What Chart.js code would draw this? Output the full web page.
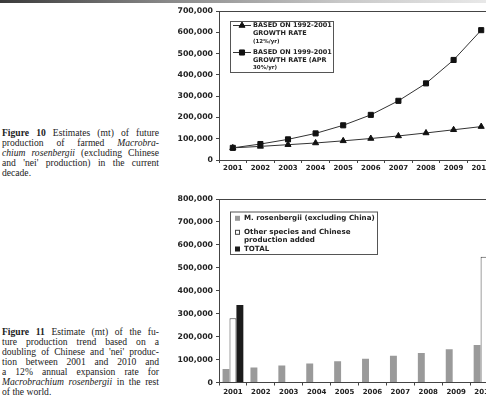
<!DOCTYPE html>
<html>
<head>
<meta charset="utf-8">
<script src="https://cdn.jsdelivr.net/npm/chart.js@4.4.0/dist/chart.umd.min.js"></script>
<style>
  html, body { margin: 0; padding: 0; width: 486px; height: 396px; overflow: hidden; background: #fff; }
  .strip { position: absolute; left: 0; top: 0; width: 486px; height: 3px;
           background: linear-gradient(to right, #3a3a3a 0%, #8a8a8a 35%, #c8c8c8 70%, #e8e8e8 100%); }
  .caption { position: absolute; left: 2px; width: 157px; font: 9.6px/10px "Liberation Serif", serif; color: #222; }
  .caption div { text-align: justify; text-align-last: justify; white-space: nowrap; }
  .caption div.last { text-align-last: left; }
  canvas { position: absolute; }
</style>
</head>
<body>
<div class="strip"></div>

<div class="caption" style="top:128px">
  <div><b>Figure 10</b> Estimates (mt) of future</div>
  <div>production of farmed <i>Macrobra-</i></div>
  <div><i>chium rosenbergii</i> (excluding Chinese</div>
  <div>and 'nei' production) in the current</div>
  <div class="last">decade.</div>
</div>

<div class="caption" style="top:327px">
  <div><b>Figure 11</b> Estimate (mt) of the fu-</div>
  <div>ture production trend based on a</div>
  <div>doubling of Chinese and 'nei' produc-</div>
  <div>tion between 2001 and 2010 and</div>
  <div>a 12% annual expansion rate for</div>
  <div><i>Macrobrachium rosenbergii</i> in the rest</div>
  <div class="last">of the world.</div>
</div>

<canvas id="growth" width="350" height="180" style="left:150px; top:0px"></canvas>
<canvas id="trend" width="350" height="206" style="left:150px; top:190px"></canvas>

<script>
// years on both charts
const years = ["2001", "2002", "2003", "2004", "2005", "2006", "2007", "2008", "2009", "2010"];

// figure 10 - projections (mt)
const rate12 = [57000, 64000, 72000, 80000, 90000, 101000, 113000, 127000, 142000, 157000];
const rate30 = [57000, 75000, 97000, 125000, 163000, 212000, 278000, 360000, 470000, 610000];

// figure 11 - production trend (mt)
const rosenbergii = [59000, 65000, 74000, 83000, 93000, 104000, 117000, 129000, 145000, 163000];
const otherAdded = [280000, null, null, null, null, null, null, null, null, 548000];
const total = [338000, null, null, null, null, null, null, null, null, 711000];

// y axes
const growthMax = 700000;
const trendMax = 800000;
const tickStep = 100000;

const ink = "#222";
const axisColor = "#444";

Chart.defaults.font.family = "'DejaVu Sans', sans-serif";
Chart.defaults.font.weight = "bold";
Chart.defaults.font.size = 7.8;
Chart.defaults.color = ink;

// frame around plot area (top/right)
const framePlugin = {
  id: "frame",
  afterDraw(chart) {
    const { ctx, chartArea: a } = chart;
    ctx.save();
    ctx.strokeStyle = axisColor;
    ctx.lineWidth = 1;
    ctx.beginPath();
    ctx.moveTo(a.left, a.top + 0.5);
    ctx.lineTo(a.right - 0.5, a.top + 0.5);
    ctx.lineTo(a.right - 0.5, a.bottom);
    ctx.stroke();
    ctx.restore();
  }
};

// boxed legend with multi-line labels
const boxLegend = {
  id: "boxLegend",
  afterDraw(chart, args, opts) {
    const ctx = chart.ctx;
    const b = opts.box;
    ctx.save();
    ctx.strokeStyle = "#555";
    ctx.lineWidth = 1;
    ctx.strokeRect(b.x + 0.5, b.y + 0.5, b.w, b.h);
    opts.items.forEach(item => {
      const ds = chart.data.datasets[item.dataset];
      if (item.line) {
        ctx.strokeStyle = ds.borderColor;
        ctx.lineWidth = 1;
        ctx.beginPath();
        ctx.moveTo(item.line[0], item.y);
        ctx.lineTo(item.line[1], item.y);
        ctx.stroke();
        ctx.fillStyle = ds.pointBackgroundColor;
        ctx.strokeStyle = ds.pointBorderColor;
        Chart.helpers.drawPoint(ctx, { pointStyle: ds.pointStyle, radius: ds.pointRadius, rotation: 0, borderWidth: 1 },
          (item.line[0] + item.line[1]) / 2, item.y);
      }
      if (item.square) {
        ctx.fillStyle = ds.backgroundColor;
        ctx.fillRect(item.square, item.y - 2.5, 5, 5);
        if (ds.borderWidth) {
          ctx.strokeStyle = ds.borderColor;
          ctx.lineWidth = 1;
          ctx.strokeRect(item.square + 0.5, item.y - 2, 4, 4);
        }
      }
      item.text.forEach(t => {
        ctx.fillStyle = ink;
        ctx.font = "bold " + (t.size || opts.size) + "px 'DejaVu Sans', sans-serif";
        ctx.textBaseline = "middle";
        ctx.fillText(t.s, opts.textX, t.y);
      });
    });
    ctx.restore();
  }
};

const fmt = v => v.toLocaleString("en-US");

function yAxis(max, width) {
  return {
    min: 0, max: max,
    ticks: { stepSize: tickStep, callback: fmt, padding: 3 },
    grid: { drawOnChartArea: false, tickLength: 3, color: axisColor },
    border: { color: axisColor },
    afterFit(scale) { scale.width = width; }
  };
}

function xAxis(height, pad) {
  return {
    offset: true,
    ticks: { padding: pad, maxRotation: 0, autoSkip: false, font: { size: 7 } },
    grid: { offset: true, drawOnChartArea: false, tickLength: 3, color: axisColor },
    border: { color: axisColor },
    afterFit(scale) { scale.height = height; }
  };
}

new Chart(document.getElementById("growth"), {
  type: "line",
  data: {
    labels: years,
    datasets: [
      {
        label: "BASED ON 1992-2001 GROWTH RATE (12%/yr)",
        data: rate12,
        borderColor: "#333", borderWidth: 1,
        pointStyle: "triangle", pointRadius: 3.5,
        pointBackgroundColor: "#111", pointBorderColor: "#111",
        tension: 0
      },
      {
        label: "BASED ON 1999-2001 GROWTH RATE (APR 30%/yr)",
        data: rate30,
        borderColor: "#333", borderWidth: 1,
        pointStyle: "rect", pointRadius: 3.6,
        pointBackgroundColor: "#111", pointBorderColor: "#111",
        tension: 0
      }
    ]
  },
  options: {
    responsive: false,
    animation: false,
    layout: { padding: { top: 11, right: 2, left: 0, bottom: 0 } },
    scales: {
      x: xAxis(20, 1),
      y: yAxis(growthMax, 69)
    },
    plugins: {
      legend: { display: false },
      tooltip: { enabled: false },
      boxLegend: {
        box: { x: 80, y: 21, w: 103, h: 51 },
        textX: 103,
        size: 6.5,
        items: [
          { dataset: 0, line: [83, 101], y: 25.5,
            text: [{ s: "BASED ON 1992-2001", y: 25.5 }, { s: "GROWTH RATE", y: 33.5 }, { s: "(12%/yr)", y: 42, size: 5.5 }] },
          { dataset: 1, line: [83, 101], y: 52.5,
            text: [{ s: "BASED ON 1999-2001", y: 52.5 }, { s: "GROWTH RATE (APR", y: 60.5 }, { s: "30%/yr)", y: 68, size: 5.5 }] }
        ]
      }
    }
  },
  plugins: [framePlugin, boxLegend]
});

new Chart(document.getElementById("trend"), {
  type: "bar",
  data: {
    labels: years,
    datasets: [
      { label: "M. rosenbergii (excluding China)", data: rosenbergii, backgroundColor: "#9a9a9a", borderWidth: 0 },
      { label: "Other species and Chinese production added", data: otherAdded, backgroundColor: "#ffffff",
        borderColor: "#444", borderWidth: 1 },
      { label: "TOTAL", data: total, backgroundColor: "#1c1c1c", borderWidth: 0 }
    ]
  },
  options: {
    responsive: false,
    animation: false,
    datasets: { bar: { categoryPercentage: 0.745, barPercentage: 1 } },
    layout: { padding: { top: 9, right: 2, left: 0, bottom: 0 } },
    scales: {
      x: xAxis(13.5, 2),
      y: yAxis(trendMax, 69)
    },
    plugins: {
      legend: { display: false },
      tooltip: { enabled: false },
      boxLegend: {
        box: { x: 80, y: 21.5, w: 147, h: 42.5 },
        textX: 94,
        size: 7.1,
        items: [
          { dataset: 0, square: 85, y: 28.3, text: [{ s: "M. rosenbergii (excluding China)", y: 28.3 }] },
          { dataset: 1, square: 85, y: 42.3,
            text: [{ s: "Other species and Chinese", y: 42.3 }, { s: "production added", y: 50 }] },
          { dataset: 2, square: 85, y: 59, text: [{ s: "TOTAL", y: 59 }] }
        ]
      }
    }
  },
  plugins: [framePlugin, boxLegend]
});
</script>
</body>
</html>
